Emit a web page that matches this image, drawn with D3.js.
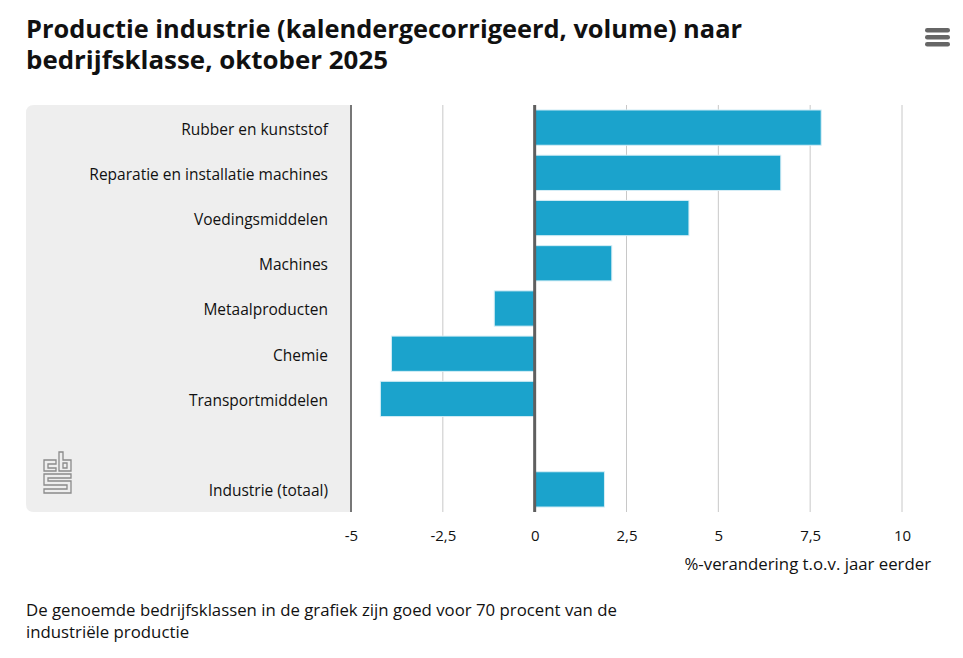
<!DOCTYPE html>
<html>
<head>
<meta charset="utf-8">
<script src="https://cdn.jsdelivr.net/npm/d3@7"></script>
<style>
  body { margin: 0; background: #fff; }
  svg text { font-family: "Open Sans", "Noto Sans", sans-serif; }
</style>
</head>
<body>
<div id="chart"></div>
<script>
// Chart data
var categories = [
  "Rubber en kunststof",
  "Reparatie en installatie machines",
  "Voedingsmiddelen",
  "Machines",
  "Metaalproducten",
  "Chemie",
  "Transportmiddelen",
  "",
  "Industrie (totaal)"
];
var values = [7.8, 6.7, 4.2, 2.1, -1.1, -3.9, -4.2, null, 1.9];
var tickValues = [-5, -2.5, 0, 2.5, 5, 7.5, 10];

var titleLines = [
  "Productie industrie (kalendergecorrigeerd, volume) naar",
  "bedrijfsklasse, oktober 2025"
];
// width of each title line in the picture (condensed bold face)
var titleWidths = [716, 362];
var axisTitle = "%-verandering t.o.v. jaar eerder";
var noteLines = [
  "De genoemde bedrijfsklassen in de grafiek zijn goed voor 70 procent van de",
  "industriële productie"
];

// SVG dimensions
var svgWidth = 963;
var svgHeight = 658;

// Plot area
var plot = { left: 351, right: 902, top: 105, bottom: 512 };

var svg = d3.select("#chart")
  .append("svg")
  .attr("width", svgWidth)
  .attr("height", svgHeight);

// Title (squeezed to mimic the condensed house font)
svg.append("g")
  .selectAll("text")
  .data(titleLines)
  .join("text")
  .attr("x", 26)
  .attr("y", (d, i) => 38 + i * 31)
  .attr("font-weight", "bold")
  .attr("font-size", 24.5)
  .attr("fill", "#111")
  .attr("textLength", (d, i) => titleWidths[i])
  .attr("lengthAdjust", "spacingAndGlyphs")
  .text(d => d);

// Hamburger menu icon
var menu = svg.append("g").attr("transform", "translate(925,28)");
[0, 7, 14].forEach(dy => {
  menu.append("rect")
    .attr("x", 0).attr("y", dy)
    .attr("width", 25).attr("height", 4.5)
    .attr("rx", 2.2)
    .attr("fill", "#666");
});

// Scales
var x = d3.scaleLinear()
  .domain([-5, 10])
  .range([plot.left, plot.right]);

var y = d3.scaleBand()
  .domain(d3.range(categories.length))
  .range([plot.top, plot.bottom])
  .paddingInner(0.22)
  .paddingOuter(0.11);

// Grey label panel with rounded left corners
var r = 8;
var pl = 26, pr = plot.left, pt = plot.top, pb = plot.bottom;
svg.append("path")
  .attr("d", `M${pr},${pt} L${pl + r},${pt} Q${pl},${pt} ${pl},${pt + r} L${pl},${pb - r} Q${pl},${pb} ${pl + r},${pb} L${pr},${pb} Z`)
  .attr("fill", "#eeeeee");

// Gridlines
svg.append("g")
  .selectAll("line")
  .data(tickValues.filter(d => d !== 0 && d !== -5))
  .join("line")
  .attr("x1", d => x(d)).attr("x2", d => x(d))
  .attr("y1", plot.top).attr("y2", plot.bottom)
  .attr("stroke", "#c8c8c8")
  .attr("stroke-width", 1);

// Left axis line
svg.append("line")
  .attr("x1", x(-5)).attr("x2", x(-5))
  .attr("y1", plot.top).attr("y2", plot.bottom)
  .attr("stroke", "#777")
  .attr("stroke-width", 2);

// Bars
svg.append("g")
  .selectAll("rect")
  .data(values.map((v, i) => ({ v: v, i: i })).filter(d => d.v !== null))
  .join("rect")
  .attr("x", d => x(Math.min(0, d.v)))
  .attr("y", d => y(d.i))
  .attr("width", d => Math.abs(x(d.v) - x(0)))
  .attr("height", y.bandwidth())
  .attr("fill", "#1ba3cc")
  .attr("stroke", "#d6eef6")
  .attr("stroke-width", 1);

// Zero line
svg.append("line")
  .attr("x1", x(0)).attr("x2", x(0))
  .attr("y1", plot.top).attr("y2", plot.bottom)
  .attr("stroke", "#5f5f5f")
  .attr("stroke-width", 3);

// Category labels
svg.append("g")
  .selectAll("text")
  .data(categories)
  .join("text")
  .attr("x", 328)
  .attr("y", (d, i) => y(i) + y.bandwidth() / 2)
  .attr("dy", "0.45em")
  .attr("text-anchor", "end")
  .attr("font-size", 15.5)
  .attr("fill", "#111")
  .text(d => d);

// X axis tick labels
var fmt = d => String(d).replace(".", ",");
var xAxis = d3.axisBottom(x)
  .tickValues(tickValues)
  .tickFormat(fmt)
  .tickSize(0)
  .tickPadding(18);

var gx = svg.append("g")
  .attr("transform", `translate(0,${plot.bottom})`)
  .call(xAxis);
gx.select(".domain").remove();
gx.selectAll("text")
  .attr("font-family", "'Open Sans', sans-serif")
  .attr("font-size", 15)
  .attr("fill", "#111");

// Axis title
svg.append("text")
  .attr("x", 931)
  .attr("y", 570)
  .attr("text-anchor", "end")
  .attr("font-size", 16.8)
  .attr("fill", "#111")
  .text(axisTitle);

// Footnote
svg.append("g")
  .selectAll("text")
  .data(noteLines)
  .join("text")
  .attr("x", 26)
  .attr("y", (d, i) => 616 + i * 22)
  .attr("font-size", 16.8)
  .attr("fill", "#111")
  .text(d => d);

// CBS logo (outlined blocks)
var logo = svg.append("g")
  .attr("transform", "translate(44,452)")
  .attr("fill", "none")
  .attr("stroke", "#8a8a8a")
  .attr("stroke-width", 1.3);
// c
logo.append("path").attr("d", "M0,8 H12 V12 H4 V16 H12 V19 H0 Z");
// b
logo.append("path").attr("d", "M15,0 H19 V8 H27 V19 H15 Z M19,11 V16 H23 V11 Z");
// s
logo.append("path").attr("d", "M0,22 H27 V26 H4 V29 H27 V41 H0 V37 H23 V33 H0 Z");
</script>
</body>
</html>
